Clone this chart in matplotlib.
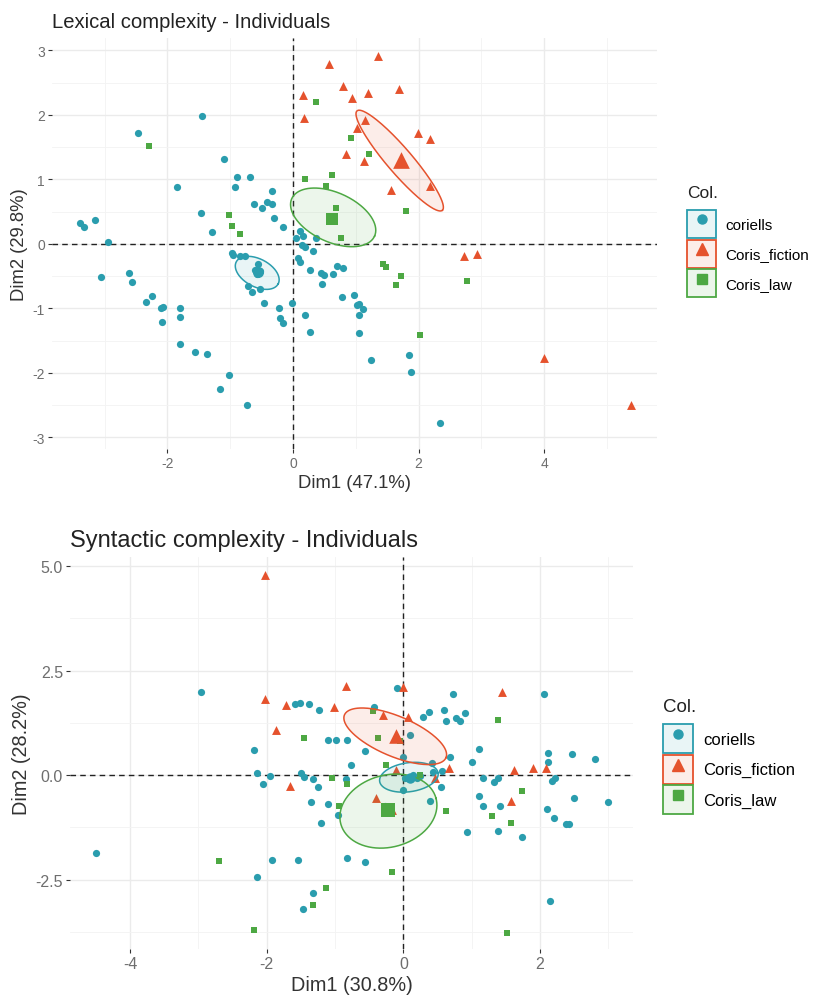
import numpy as np
import matplotlib
matplotlib.use("Agg")
import matplotlib.pyplot as plt
from matplotlib.lines import Line2D
from matplotlib.patches import Patch
from matplotlib.legend_handler import HandlerTuple
from matplotlib.colors import to_rgba

plt.rcParams['font.family'] = ['Liberation Sans', 'DejaVu Sans']
plt.rcParams['axes.unicode_minus'] = False

groups = ["coriells", "Coris_fiction", "Coris_law"]
colors = ["#2A9DAE", "#E5522D", "#4DA843"]
markers = ["o", "^", "s"]
point_ms = [5.2, 6.4, 5.0]
legend_ms = [6.5, 8.5, 6.5]

# ---- Lexical complexity (Dim1 47.1%, Dim2 29.8%) ----
lex_coriells = np.array([
    (-2.47, 1.71), (-1.45, 1.98), (-1.10, 1.32), (-1.85, 0.88), (-0.89, 1.04),
    (-0.68, 1.04), (-0.92, 0.88), (-0.33, 0.82), (-0.62, 0.62), (-0.49, 0.56),
    (-0.41, 0.65), (-0.33, 0.62), (-0.30, 0.40), (-0.16, 0.26), (-1.47, 0.48),
    (-1.29, 0.19), (-3.39, 0.33), (-3.33, 0.26), (-3.15, 0.37), (-2.95, 0.03),
    (0.05, 0.09), (0.11, 0.20), (0.16, 0.12), (0.14, -0.02), (0.19, -0.05),
    (0.32, -0.11), (0.37, 0.09), (-0.97, -0.14), (-0.95, -0.17), (-0.84, -0.19),
    (-0.76, -0.19), (-0.56, -0.31), (-0.60, -0.40), (-0.52, -0.42), (-0.57, -0.47),
    (-0.72, -0.66), (-0.65, -0.74), (-0.53, -0.70), (-0.46, -0.92), (-0.22, -0.99),
    (-0.21, -1.15), (-0.16, -1.22), (-0.02, -0.91), (0.08, -0.22), (0.11, -0.28),
    (0.27, -0.40), (0.45, -0.45), (0.49, -0.48), (0.46, -0.62), (0.64, -0.47),
    (0.70, -0.34), (0.80, -0.37), (0.78, -0.82), (0.97, -0.80), (1.02, -0.95),
    (1.05, -0.93), (1.11, -1.01), (1.05, -1.11), (0.19, -1.11), (0.27, -1.37),
    (1.05, -1.38), (1.24, -1.80), (1.85, -1.72), (1.88, -1.98), (2.34, -2.77),
    (-3.06, -0.51), (-2.61, -0.45), (-2.56, -0.59), (-2.34, -0.90), (-2.25, -0.81),
    (-2.10, -0.99), (-2.07, -0.98), (-2.09, -1.21), (-1.80, -0.99), (-1.80, -1.13),
    (-1.80, -1.55), (-1.56, -1.67), (-1.37, -1.71), (-1.02, -2.03), (-1.16, -2.25),
    (-0.73, -2.50),
])
lex_fiction = np.array([
    (0.58, 2.79), (0.16, 2.30), (0.18, 1.95), (1.35, 2.91), (0.80, 2.45),
    (0.94, 2.26), (1.19, 2.34), (1.69, 2.40), (1.15, 1.92), (1.02, 1.80),
    (1.99, 1.71), (2.18, 1.63), (0.84, 1.39), (1.13, 1.29), (2.18, 0.90),
    (1.56, 0.84), (2.72, -0.19), (2.93, -0.16), (4.00, -1.77), (5.38, -2.50),
])
lex_law = np.array([
    (-2.29, 1.52), (-1.02, 0.45), (-0.97, 0.28), (-0.84, 0.15), (0.37, 2.20),
    (0.19, 1.01), (0.62, 1.07), (0.52, 0.89), (0.68, 0.56), (0.92, 1.64),
    (1.21, 1.39), (1.80, 0.51), (0.77, 0.09), (1.43, -0.31), (1.48, -0.36),
    (1.72, -0.50), (1.64, -0.64), (2.02, -1.41), (2.77, -0.57),
])
lex_means = [(-0.56, -0.43), (1.72, 1.30), (0.62, 0.39)]
lex_ell_center = [(-0.57, -0.45), (1.70, 1.29), (0.64, 0.41)]
lex_ell_a = [(0.334, -0.171), (0.68, -0.77), (0.66, -0.29)]
lex_ell_b = [(0.103, 0.191), (0.15, 0.13), (0.16, 0.35)]

# ---- Syntactic complexity (Dim1 30.8%, Dim2 28.2%) ----
syn_coriells = np.array([
    (-2.96, 1.99), (-1.59, 1.70), (-1.51, 1.72), (-1.38, 1.70), (-1.23, 1.57),
    (-0.10, 2.08), (-0.43, 1.64), (-1.10, 0.85), (-0.98, 0.85), (-0.82, 0.85),
    (0.09, 0.96), (-2.19, 0.59), (-0.56, 0.57), (0.28, 1.39), (0.37, 1.51),
    (0.60, 1.57), (0.63, 1.29), (0.72, 1.95), (0.77, 1.36), (0.83, 1.29),
    (0.90, 1.48), (-0.01, 0.44), (0.68, 0.44), (0.42, 0.30), (-0.77, 0.25),
    (-2.15, 0.06), (-1.95, -0.03), (-1.50, 0.05), (-1.46, -0.05), (-1.32, -0.10),
    (-1.25, -0.29), (-0.84, -0.10), (0.02, -0.06), (0.10, -0.10), (0.14, 0.00),
    (0.20, -0.08), (0.24, -0.02), (0.43, 0.08), (0.56, 0.10), (0.55, -0.29),
    (0.00, -0.35), (-0.27, -0.73), (0.39, -0.61), (-1.36, -0.64), (-1.10, -0.68),
    (-0.96, -0.95), (-1.21, -1.14), (0.93, -1.36), (-4.50, -1.87), (-1.93, -2.03),
    (-1.55, -2.03), (-0.82, -1.99), (-0.56, -2.07), (-2.15, -2.44), (-1.33, -2.82),
    (-1.47, -3.21), (-2.06, -0.22), (2.06, 1.95), (1.10, 0.62), (2.12, 0.53),
    (2.47, 0.50), (2.81, 0.38), (2.12, 0.32), (1.00, 0.31), (1.16, -0.08),
    (1.33, -0.17), (1.38, -0.08), (2.18, -0.14), (2.22, -0.08), (1.11, -0.50),
    (2.49, -0.54), (2.99, -0.64), (1.16, -0.73), (1.41, -0.73), (2.10, -0.80),
    (2.20, -1.02), (2.38, -1.18), (2.43, -1.18), (1.39, -1.33), (1.73, -1.49),
    (2.14, -3.01),
])
syn_fiction = np.array([
    (-2.03, 4.79), (-2.02, 1.82), (-0.84, 2.14), (-1.72, 1.69), (-1.01, 1.63),
    (-0.01, 2.11), (-0.30, 1.44), (0.06, 1.39), (-1.86, 1.09), (0.67, 0.18),
    (-0.11, 0.12), (0.46, -0.07), (-1.66, -0.27), (-0.40, -0.55), (1.44, 1.99),
    (1.62, 0.13), (1.89, 0.16), (2.08, 0.18), (1.58, -0.62), (-0.17, -0.84),
])
syn_law = np.array([
    (-0.45, 1.54), (-1.45, 0.88), (-0.37, 0.90), (-0.05, 0.82), (-0.25, 0.24),
    (-1.05, -0.07), (-0.82, -0.20), (0.63, -0.86), (-0.94, -0.73), (-2.70, -2.05),
    (-0.17, -2.31), (-1.14, -2.71), (-1.33, -3.11), (-2.19, -3.71), (1.39, 1.32),
    (1.73, -0.39), (1.29, -0.97), (1.57, -1.15), (1.52, -3.78), (0.24, 0.00),
])
syn_means = [(0.10, -0.06), (-0.11, 0.94), (-0.23, -0.83)]
syn_ell_center = [(0.08, -0.05), (-0.12, 0.93), (-0.22, -0.86)]
syn_ell_a = [(0.428, 0.098), (0.743, -0.512), (0.697, 0.306)]
syn_ell_b = [(-0.029, 0.344), (0.115, 0.443), (-0.136, 0.832)]


def draw_panel(ax, pts, means, centers, axes_a, axes_b, mean_ms, fs):
    for g in range(3):
        ax.scatter(pts[g][:, 0], pts[g][:, 1], s=point_ms[g] ** 2, marker=markers[g],
                   color=colors[g], linewidths=0, zorder=3)
    for g in range(3):
        t = np.linspace(0, 2 * np.pi, 240)
        ex = centers[g][0] + axes_a[g][0] * np.cos(t) + axes_b[g][0] * np.sin(t)
        ey = centers[g][1] + axes_a[g][1] * np.cos(t) + axes_b[g][1] * np.sin(t)
        ax.fill(ex, ey, facecolor=colors[g], alpha=0.1, edgecolor="none", zorder=4)
        ax.plot(ex, ey, color=colors[g], lw=1.1, zorder=4)
        ax.scatter(means[g][0], means[g][1], s=mean_ms[g] ** 2, marker=markers[g],
                   color=colors[g], linewidths=0, zorder=5)
    ax.axhline(0, color="#222222", lw=1.0, ls=(0, (4, 3)), zorder=2)
    ax.axvline(0, color="#222222", lw=1.0, ls=(0, (4, 3)), zorder=2)
    for s in ax.spines.values():
        s.set_visible(False)
    ax.grid(True, which="major", color="#EBEBEB", lw=1.0)
    ax.grid(True, which="minor", color="#F3F3F3", lw=0.6)
    ax.set_axisbelow(True)
    ax.tick_params(which="major", length=3, color="#333333", labelcolor="#6E6E6E",
                   labelsize=fs, pad=2)
    ax.tick_params(which="minor", length=0)


def add_legend(fig, title_xy, box_xy, fs, tfs, hlen, hh):
    W, H = fig.bbox.width, fig.bbox.height
    fig.text(title_xy[0] / W, 1 - title_xy[1] / H, "Col.", fontsize=tfs,
             color="#222222", ha="left", va="center")
    handles = []
    for g in range(3):
        box = Patch(facecolor=to_rgba(colors[g], 0.1), edgecolor=colors[g], lw=1.3)
        mk = Line2D([], [], marker=markers[g], color=colors[g], ls="none",
                    ms=legend_ms[g])
        handles.append((box, mk))
    fig.legend(handles, groups, handler_map={tuple: HandlerTuple(ndivide=1)},
               loc="upper left", bbox_to_anchor=(box_xy[0] / W, 1 - box_xy[1] / H),
               bbox_transform=fig.transFigure, frameon=False, fontsize=fs,
               handlelength=hlen, handleheight=hh, labelspacing=0.1,
               handletextpad=0.6, borderpad=0, borderaxespad=0)


W, H = 814, 1003
fig = plt.figure(figsize=(W / 100, H / 100), dpi=100)

ax1 = fig.add_axes([52 / W, 1 - 450 / H, 605 / W, 411 / H])
draw_panel(ax1, [lex_coriells, lex_fiction, lex_law], lex_means, lex_ell_center,
           lex_ell_a, lex_ell_b, [8.0, 12.0, 8.6], 10)
ax1.set_xlim(-3.84, 5.8)
ax1.set_ylim(-3.18, 3.19)
ax1.set_xticks([-2, 0, 2, 4])
ax1.set_xticks([-3, -1, 1, 3, 5], minor=True)
ax1.set_yticks([-3, -2, -1, 0, 1, 2, 3])
ax1.set_yticks([-2.5, -1.5, -0.5, 0.5, 1.5, 2.5], minor=True)
ax1.set_xlabel("Dim1 (47.1%)", fontsize=13.3, color="#333333", labelpad=3)
ax1.set_ylabel("Dim2 (29.8%)", fontsize=13.3, color="#333333", labelpad=3)
ax1.set_title("Lexical complexity - Individuals", loc="left", fontsize=14.6,
              color="#222222", pad=8)
add_legend(fig, (687, 193), (687, 211), 11, 12.5, 1.9, 2.45)

ax2 = fig.add_axes([70 / W, 1 - 950 / H, 563 / W, 392 / H])
draw_panel(ax2, [syn_coriells, syn_fiction, syn_law], syn_means, syn_ell_center,
           syn_ell_a, syn_ell_b, [7.5, 10.5, 9.4], 11.5)
ax2.set_xlim(-4.88, 3.36)
ax2.set_ylim(-4.16, 5.22)
ax2.set_xticks([-4, -2, 0, 2])
ax2.set_xticks([-3, -1, 1, 3], minor=True)
ax2.set_yticks([-2.5, 0, 2.5, 5])
ax2.set_yticklabels(["-2.5", "0.0", "2.5", "5.0"])
ax2.set_yticks([-3.75, -1.25, 1.25, 3.75], minor=True)
ax2.set_xlabel("Dim1 (30.8%)", fontsize=14.3, color="#333333", labelpad=3)
ax2.set_ylabel("Dim2 (28.2%)", fontsize=14.3, color="#333333", labelpad=3)
ax2.set_title("Syntactic complexity - Individuals", loc="left", fontsize=17,
              color="#222222", pad=8)
add_legend(fig, (663, 707), (663, 725), 12, 13.5, 1.8, 2.3)

fig.savefig("out.png", dpi=100, facecolor="white")
